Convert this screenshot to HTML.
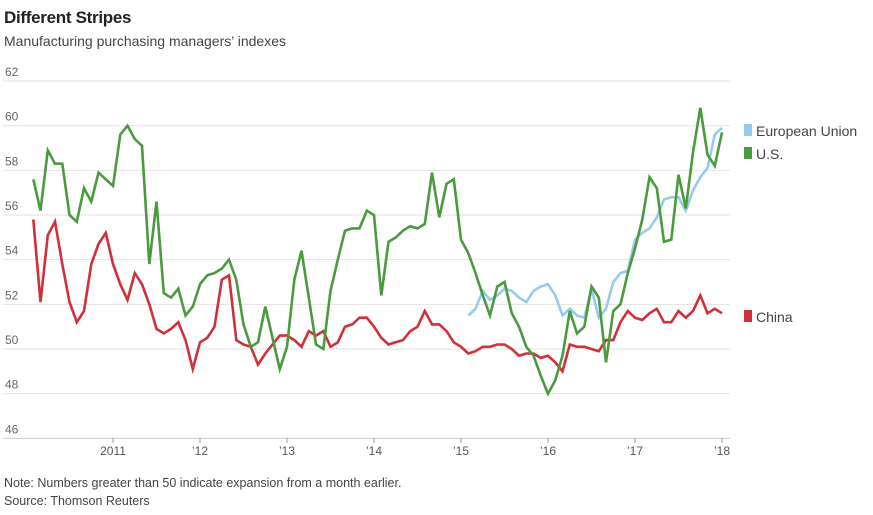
<!DOCTYPE html>
<html><head><meta charset="utf-8"><style>
body{margin:0;background:#fff;font-family:"Liberation Sans",sans-serif;}
#wrap{position:relative;width:873px;height:515px;overflow:hidden;}
.t{position:absolute;white-space:nowrap;color:#333;}
</style></head><body>
<div id="wrap">
<div class="t" style="left:4px;top:8px;font-size:17px;font-weight:bold;color:#222;letter-spacing:-0.3px">Different Stripes</div>
<div class="t" style="left:4px;top:33px;font-size:14px;color:#444">Manufacturing purchasing managers’ indexes</div>
<div class="t" style="left:4px;top:476px;font-size:12.5px;color:#444">Note: Numbers greater than 50 indicate expansion from a month earlier.</div>
<div class="t" style="left:4px;top:494px;font-size:12.5px;color:#444">Source: Thomson Reuters</div>
<svg id="chart" width="873" height="515" style="position:absolute;left:0;top:0"></svg>
</div>
<script>
const yTicks=[46,48,50,52,54,56,58,60,62];
const xTickLabels=["2011","’12","’13","’14","’15","’16","’17","’18"];
const xTickYears=[2011,2012,2013,2014,2015,2016,2017,2018];
const usValues=[57.6,56.2,58.9,58.3,58.3,56.0,55.7,57.2,56.6,57.9,57.6,57.3,
59.6,60.0,59.4,59.1,53.8,56.6,52.5,52.3,52.7,51.5,51.9,52.9,
53.3,53.4,53.6,54.0,53.1,51.1,50.1,50.3,51.9,50.5,49.1,50.1,
53.1,54.4,52.3,50.2,50.0,52.6,54.0,55.3,55.4,55.4,56.2,56.0,
52.4,54.8,55.0,55.3,55.5,55.4,55.6,57.9,55.9,57.4,57.6,54.9,
54.3,53.4,52.4,51.5,52.8,53.0,51.6,51.0,50.1,49.7,48.8,48.0,
48.6,49.7,51.7,50.7,51.0,52.8,52.3,49.4,51.7,52.0,53.4,54.5,
55.8,57.7,57.2,54.8,54.9,57.8,56.3,58.8,60.8,58.7,58.2,59.7];
const chinaValues=[55.8,52.1,55.1,55.7,53.8,52.1,51.2,51.7,53.8,54.7,55.2,53.8,
52.9,52.2,53.4,52.9,52.0,50.9,50.7,50.9,51.2,50.4,49.1,50.3,
50.5,51.0,53.1,53.3,50.4,50.2,50.1,49.3,49.8,50.2,50.6,50.6,
50.4,50.1,50.8,50.6,50.8,50.1,50.3,51.0,51.1,51.4,51.4,51.0,
50.5,50.2,50.3,50.4,50.8,51.0,51.7,51.1,51.1,50.8,50.3,50.1,
49.8,49.9,50.1,50.1,50.2,50.2,50.0,49.7,49.8,49.8,49.6,49.7,
49.4,49.0,50.2,50.1,50.1,50.0,49.9,50.4,50.4,51.2,51.7,51.4,
51.3,51.6,51.8,51.2,51.2,51.7,51.4,51.7,52.4,51.6,51.8,51.6];
const euValues=[51.5,51.8,52.6,52.2,52.4,52.7,52.6,52.3,52.1,52.6,52.8,52.9,
52.4,51.5,51.8,51.5,51.4,52.7,51.4,51.8,53.0,53.4,53.5,54.9,
55.2,55.4,55.9,56.7,56.8,56.8,56.2,57.1,57.7,58.1,59.6,59.9];
const usStart=[2010,2], chinaStart=[2010,2], euStart=[2015,2];

const NS="http://www.w3.org/2000/svg";
const svg=document.getElementById('chart');
function yS(v){return 349-(v-50)*22.33;}
function xS(year,month){return 113+(year-2011)*87+(month-1)*7.25;}
function mk(tag,attrs){const e=document.createElementNS(NS,tag);for(const k in attrs)e.setAttribute(k,attrs[k]);svg.appendChild(e);return e;}

yTicks.forEach(v=>{
  const g=mk('line',{x1:3,x2:730,y1:yS(v),y2:yS(v),stroke:v===46?'#ccc':'#e2e2e2','stroke-width':1});
  
  
  const t=mk('text',{x:5,y:yS(v)-5,'font-size':12,fill:'#666','font-family':'Liberation Sans, sans-serif'});
  t.textContent=v;
  
  
});
xTickYears.forEach((yr,i)=>{
  const x=xS(yr,1);
  const tk=mk('line',{x1:x,x2:x,y1:438,y2:443,stroke:'#999','stroke-width':1});
  
  
  const t=mk('text',{x:x,y:455,'font-size':12,fill:'#555','text-anchor':'middle','font-family':'Liberation Sans, sans-serif'});
  t.textContent=xTickLabels[i];
  
  
});
function series(vals,start,color,name){
  const pts=vals.map((v,i)=>{const m=start[1]-1+i;return xS(start[0]+Math.floor(m/12),(m%12)+1).toFixed(1)+','+yS(v).toFixed(1);}).join(' ');
  const p=mk('polyline',{points:pts,fill:'none',stroke:color,'stroke-width':2.6,'stroke-linejoin':'miter','stroke-miterlimit':4});
  
  
}
series(euValues,euStart,'#95cbee','line-european-union');
series(chinaValues,chinaStart,'#d0303a','line-china');
series(usValues,usStart,'#4a9a3e','line-us');

const legend=[['European Union','#95cbee',131],['U.S.','#4a9a3e',154],['China','#d0303a',317]];
legend.forEach(l=>{
  const r=mk('rect',{x:744,y:l[2]-7,width:8,height:12,fill:l[1]});
  
  
  const t=mk('text',{x:756,y:l[2]+5,'font-size':14,fill:'#444','font-family':'Liberation Sans, sans-serif'});
  t.textContent=l[0];
  
  
});
</script>
</body></html>
